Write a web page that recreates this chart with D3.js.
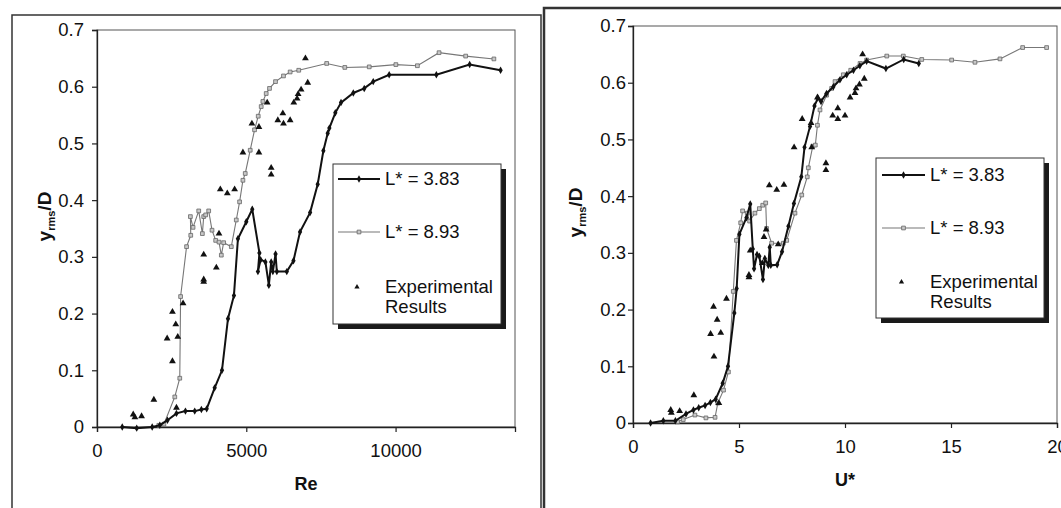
<!DOCTYPE html>
<html>
<head>
<meta charset="utf-8">
<script src="https://cdn.jsdelivr.net/npm/d3@7"></script>
<style>
  html, body { margin: 0; padding: 0; background: #fff; overflow: hidden; }
  svg { display: block; }
</style>
</head>
<body>
<script>
// y_rms/D against Re (left) and against U* (right)
var yTicks = [0, 0.1, 0.2, 0.3, 0.4, 0.5, 0.6, 0.7];
var reTicks = [0, 5000, 10000];
var uTicks = [0, 5, 10, 15, 20];
var legendNames = ["L* = 3.83", "L* = 8.93", "Experimental", "Results"];

// left panel: [Re, y_rms/D]
var reL383 = [[846,0],[1330,-0.002],[1848,0],[2104,0.003],[2360,0.012],[2661,0.024],[2962,0.028],[3273,0.028],
    [3496,0.031],[3674,0.032],[3941,0.069],[4186,0.100],[4387,0.191],[4587,0.232],[4720,0.332],[5000,0.362],
    [5200,0.384],[5440,0.307],[5390,0.274],[5480,0.295],[5640,0.291],[5756,0.250],[5834,0.291],[5890,0.274],
    [5980,0.305],[6023,0.274],[6357,0.274],[6580,0.293],[6800,0.344],[7137,0.378],[7392,0.428],[7582,0.487],
    [7727,0.518],[7782,0.527],[7982,0.554],[8173,0.572],[8584,0.589],[8951,0.597],[9252,0.609],[9786,0.621],
    [11366,0.621],[12481,0.639],[13517,0.629]];

var reL893 = [[2070,0.003],[2240,0.005],[2605,0.053],[2772,0.086],[2800,0.230],[3000,0.318],[3140,0.338],
    [3128,0.371],[3217,0.352],[3407,0.381],[3529,0.341],[3574,0.371],[3640,0.374],[3741,0.381],[3852,0.347],
    [3975,0.329],[4086,0.326],[4164,0.303],[4242,0.325],[4498,0.318],[4665,0.365],[4776,0.397],[4887,0.435],
    [4965,0.447],[5132,0.488],[5277,0.524],[5400,0.548],[5500,0.565],[5556,0.574],[5667,0.588],[5778,0.597],
    [5979,0.609],[6246,0.619],[6469,0.626],[6757,0.629],[7693,0.641],[8300,0.634],[9118,0.635],[10010,0.639],
    [10731,0.637],[11456,0.660],[12348,0.654],[13293,0.649]];

var reExp = [[1213,0.022],[1269,0.017],[1492,0.019],[1904,0.048],[2349,0.156],[2527,0.203],[2527,0.116],
    [2638,0.181],[2705,0.159],[2661,0.034],[2883,0.218],[3574,0.304],[3574,0.260],[3574,0.256],[3997,0.281],
    [4086,0.341],[4130,0.419],[4364,0.412],[4609,0.419],[4887,0.484],[5188,0.535],[5423,0.529],[5423,0.484],
    [5700,0.572],[5834,0.457],[5834,0.445],[6057,0.541],[6224,0.553],[6246,0.535],[6469,0.541],[6591,0.572],
    [6702,0.579],[6736,0.587],[6836,0.595],[6981,0.650],[7058,0.607]];

// right panel: [U*, y_rms/D]
var uL383 = [[0.83,0],[1.43,0.004],[2.0,0.004],[2.5,0.016],[2.85,0.023],[3.1,0.027],[3.4,0.031],[3.65,0.036],
    [3.9,0.042],[4.23,0.070],[4.48,0.100],[4.78,0.194],[4.89,0.237],[5.02,0.333],[5.35,0.362],[5.53,0.386],
    [5.65,0.307],[5.71,0.272],[5.85,0.297],[5.96,0.294],[6.13,0.253],[6.22,0.290],[6.38,0.278],[6.45,0.310],
    [6.5,0.278],[6.8,0.279],[7.03,0.302],[7.33,0.347],[7.59,0.387],[7.94,0.434],[8.09,0.486],[8.35,0.523],
    [8.56,0.559],[8.72,0.573],[8.87,0.567],[9.13,0.581],[9.45,0.593],[9.76,0.605],[10.08,0.614],[10.4,0.622],
    [10.7,0.630],[11.02,0.638],[11.93,0.625],[12.77,0.641],[13.48,0.634]];

var uL893 = [[2.1,0.002],[2.37,0.006],[2.92,0.014],[3.44,0.009],[3.87,0.010],[4.0,0.035],[4.27,0.058],
    [4.5,0.090],[4.73,0.232],[4.88,0.322],[5.08,0.353],[5.17,0.374],[5.39,0.370],[5.5,0.356],[5.75,0.370],
    [5.96,0.378],[6.12,0.384],[6.26,0.388],[6.3,0.343],[6.54,0.317],[7.09,0.317],[7.25,0.322],[7.64,0.370],
    [7.96,0.402],[8.22,0.434],[8.27,0.450],[8.48,0.488],[8.6,0.490],[8.7,0.525],[8.82,0.552],[9.13,0.578],
    [9.37,0.590],[9.53,0.602],[9.92,0.614],[10.27,0.622],[10.71,0.634],[11.02,0.640],[11.97,0.647],
    [12.75,0.647],[13.62,0.641],[15.03,0.640],[16.13,0.636],[17.31,0.642],[18.38,0.662],[19.51,0.662]];

var uExp = [[1.78,0.023],[1.81,0.018],[2.2,0.021],[2.87,0.049],[3.82,0.117],[3.66,0.157],[3.8,0.205],
    [3.97,0.182],[4.14,0.159],[4.05,0.035],[4.41,0.219],[5.47,0.261],[5.47,0.257],[5.53,0.304],[6.1,0.282],
    [6.18,0.328],[6.28,0.341],[6.43,0.419],[6.78,0.411],[7.12,0.420],[6.85,0.315],[7.6,0.486],[7.98,0.536],
    [8.4,0.529],[8.43,0.486],[8.7,0.574],[9.1,0.458],[9.1,0.446],[9.42,0.542],[9.66,0.555],[9.66,0.536],
    [10.0,0.542],[10.24,0.574],[10.47,0.582],[10.52,0.590],[10.68,0.597],[10.83,0.650],[10.91,0.607]];

var FONT = "'Liberation Sans', Arial, sans-serif";

var svg = d3.select("body").append("svg")
    .attr("width", 1061)
    .attr("height", 508)
    .style("font-family", FONT);

//outer frames of the two scanned figures
svg.append("rect").attr("x", 12).attr("y", 15).attr("width", 529).attr("height", 520)
    .attr("fill", "none").attr("stroke", "#333").attr("stroke-width", 1.5);
svg.append("rect").attr("x", 544).attr("y", 8).attr("width", 540).attr("height", 520)
    .attr("fill", "none").attr("stroke", "#333").attr("stroke-width", 2.5);

drawPanel({
    left: 97, right: 515, top: 30, bottom: 427,
    xDomain: [0, 14000], xTicks: reTicks, xFormat: d3.format("d"),
    yLabelGap: 8, xTitle: "Re", xTitleY: 484, yTitleX: 44,
    black: reL383, gray: reL893, exp: reExp,
    legend: { x: 333, y: 164, w: 168, h: 160, lineX0: 338, lineX1: 380, textX: 385,
              rows: [179, 232, 287, 307] }
});

drawPanel({
    left: 633, right: 1057, top: 26, bottom: 423,
    xDomain: [0, 20], xTicks: uTicks, xFormat: d3.format("d"),
    yLabelGap: 2, xTitle: "U*", xTitleY: 480, yTitleX: 575,
    black: uL383, gray: uL893, exp: uExp,
    legend: { x: 876, y: 158, w: 168, h: 160, lineX0: 882, lineX1: 925, textX: 930,
              rows: [175, 228, 282, 302] }
});

function drawPanel(p) {
    var x = d3.scaleLinear().domain(p.xDomain).range([p.left, p.right]);
    var y = d3.scaleLinear().domain([0, 0.7]).range([p.bottom, p.top]);

    var g = svg.append("g");

    //plot area border
    g.append("rect")
        .attr("x", p.left).attr("y", p.top)
        .attr("width", p.right - p.left).attr("height", p.bottom - p.top)
        .attr("fill", "none").attr("stroke", "#555").attr("stroke-width", 1);

    //y axis
    var yAxis = g.append("g")
        .attr("transform", "translate(" + p.left + ",0)")
        .call(d3.axisLeft(y).tickValues(yTicks).tickSize(5).tickPadding(p.yLabelGap)
            .tickFormat(function (d) { return d === 0 ? "0" : d.toFixed(1); }));

    //x axis
    var xAxis = g.append("g")
        .attr("transform", "translate(0," + p.bottom + ")")
        .call(d3.axisBottom(x).tickValues(p.xTicks).tickSize(5).tickPadding(12).tickFormat(p.xFormat));

    [yAxis, xAxis].forEach(function (a) {
        a.select(".domain").attr("stroke", "#222").attr("stroke-width", 1.3);
        a.selectAll(".tick line").attr("stroke", "#222").attr("stroke-width", 1.2);
        a.selectAll(".tick text").attr("fill", "#111").style("font-size", "18.5px").style("font-family", FONT);
    });

    //axis titles
    g.append("text")
        .attr("x", (p.left + p.right) / 2).attr("y", p.xTitleY)
        .attr("text-anchor", "middle").attr("dy", "0.35em")
        .style("font-size", "18px").style("font-weight", "bold").attr("fill", "#111")
        .text(p.xTitle);

    var yt = g.append("text")
        .attr("transform", "translate(" + p.yTitleX + "," + ((p.top + p.bottom) / 2 - 12) + ") rotate(-90)")
        .attr("text-anchor", "middle").attr("dy", "0.35em")
        .style("font-size", "19px").style("font-weight", "bold").attr("fill", "#111");
    yt.append("tspan").text("y");
    yt.append("tspan").attr("dy", 4).style("font-size", "11px").text("rms");
    yt.append("tspan").attr("dy", -4).text("/D");

    var line = d3.line().x(function (d) { return x(d[0]); }).y(function (d) { return y(d[1]); });
    var diamond = d3.symbol().type(d3.symbolDiamond).size(16);
    var square = d3.symbol().type(d3.symbolSquare).size(14);
    var triangle = d3.symbol().type(d3.symbolTriangle).size(20);

    //L* = 8.93 (thin grey, square markers)
    g.append("path").datum(p.gray).attr("d", line)
        .attr("fill", "none").attr("stroke", "#777").attr("stroke-width", 1.1);
    g.selectAll(".sq").data(p.gray).join("path").attr("class", "sq")
        .attr("transform", function (d) { return "translate(" + x(d[0]) + "," + y(d[1]) + ")"; })
        .attr("d", square).attr("fill", "#c8c8c8").attr("stroke", "#666").attr("stroke-width", 0.8);

    //L* = 3.83 (thick black, diamond markers)
    g.append("path").datum(p.black).attr("d", line)
        .attr("fill", "none").attr("stroke", "#111").attr("stroke-width", 2);
    g.selectAll(".dm").data(p.black).join("path").attr("class", "dm")
        .attr("transform", function (d) { return "translate(" + x(d[0]) + "," + y(d[1]) + ")"; })
        .attr("d", diamond).attr("fill", "#111");

    //experimental results
    g.selectAll(".tr").data(p.exp).join("path").attr("class", "tr")
        .attr("transform", function (d) { return "translate(" + x(d[0]) + "," + y(d[1]) + ")"; })
        .attr("d", triangle).attr("fill", "#111");

    //legend with drop shadow
    var L = p.legend;
    g.append("rect").attr("x", L.x + 5).attr("y", L.y + 5).attr("width", L.w).attr("height", L.h).attr("fill", "#1a1a1a");
    g.append("rect").attr("x", L.x).attr("y", L.y).attr("width", L.w).attr("height", L.h)
        .attr("fill", "#fff").attr("stroke", "#333").attr("stroke-width", 1);

    var mid = (L.lineX0 + L.lineX1) / 2;
    g.append("line").attr("x1", L.lineX0).attr("x2", L.lineX1).attr("y1", L.rows[0]).attr("y2", L.rows[0])
        .attr("stroke", "#111").attr("stroke-width", 2);
    g.append("path").attr("transform", "translate(" + mid + "," + L.rows[0] + ")").attr("d", diamond).attr("fill", "#111");
    g.append("line").attr("x1", L.lineX0).attr("x2", L.lineX1).attr("y1", L.rows[1]).attr("y2", L.rows[1])
        .attr("stroke", "#777").attr("stroke-width", 1.1);
    g.append("path").attr("transform", "translate(" + mid + "," + L.rows[1] + ")").attr("d", square)
        .attr("fill", "#c8c8c8").attr("stroke", "#666").attr("stroke-width", 0.8);
    g.append("path").attr("transform", "translate(" + (mid - 2) + "," + L.rows[2] + ")").attr("d", d3.symbol().type(d3.symbolTriangle).size(12))
        .attr("fill", "#111");

    L.rows.forEach(function (ry, i) {
        g.append("text").attr("x", L.textX).attr("y", ry).attr("dy", "0.35em")
            .style("font-size", "18.5px").attr("fill", "#111")
            .text(legendNames[i]);
    });
}
</script>
</body>
</html>
